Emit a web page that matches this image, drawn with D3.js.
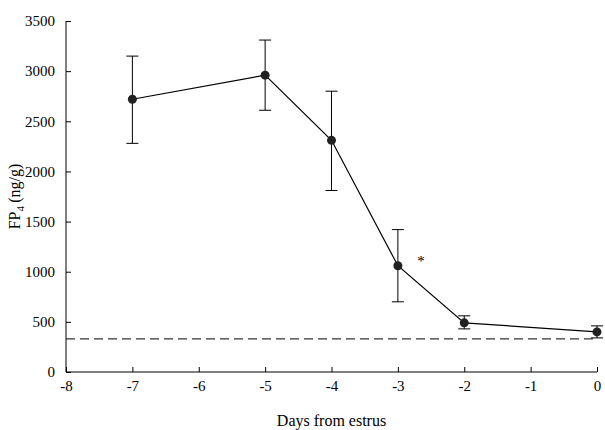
<!DOCTYPE html>
<html><head><meta charset="utf-8">
<script src="https://cdn.jsdelivr.net/npm/d3@7"></script>
<style>body{margin:0;background:#fff}</style>
</head><body>
<script>
// values
var days = [-7, -5, -4, -3, -2, 0];
var means = [2720, 2960, 2310, 1060, 490, 400];
var lows = [2280, 2610, 1810, 700, 430, 340];
var highs = [3150, 3310, 2800, 1420, 560, 460];
var baseline = 330;
var xTicks = [-8, -7, -6, -5, -4, -3, -2, -1, 0];
var yTicks = [0, 500, 1000, 1500, 2000, 2500, 3000, 3500];

var SERIF = "Liberation Serif, DejaVu Serif, serif";
var W = 605, H = 430;
var m = {left: 66, right: 8, top: 21, bottom: 58};
var svg = d3.select("body").append("svg").attr("width", W).attr("height", H)
  .attr("font-family", SERIF);

var x = d3.scaleLinear().domain([-8, 0]).range([m.left, W - m.right]);
var y = d3.scaleLinear().domain([0, 3500]).range([H - m.bottom, m.top]);
var fmt = v => String(v);

var xa = svg.append("g").attr("transform", "translate(0," + (H - m.bottom) + ")")
  .call(d3.axisBottom(x).tickValues(xTicks).tickFormat(fmt).tickSize(-5).tickPadding(8));
var ya = svg.append("g").attr("transform", "translate(" + m.left + ",0)")
  .call(d3.axisLeft(y).tickValues(yTicks).tickFormat(fmt).tickSize(-5).tickPadding(11));
[xa, ya].forEach(function(g) {
  g.attr("font-family", SERIF).attr("font-size", 15);
  g.select(".domain").remove();
  g.selectAll(".tick line").attr("stroke", "#000");
  g.selectAll("text").attr("fill", "#000").attr("font-family", SERIF);
});
svg.append("line").attr("x1", m.left).attr("x2", W - m.right)
  .attr("y1", H - m.bottom).attr("y2", H - m.bottom).attr("stroke", "#000");
svg.append("line").attr("x1", m.left).attr("x2", m.left)
  .attr("y1", m.top).attr("y2", H - m.bottom).attr("stroke", "#000");

svg.append("line").attr("x1", m.left).attr("x2", W - m.right)
  .attr("y1", y(baseline)).attr("y2", y(baseline))
  .attr("stroke", "#000").attr("stroke-dasharray", "9,5");

var pts = days.map((d, i) => ({d: d, m: means[i], lo: lows[i], hi: highs[i]}));

svg.append("path").datum(pts).attr("fill", "none").attr("stroke", "#000").attr("stroke-width", 1.2)
  .attr("d", d3.line().x(p => x(p.d)).y(p => y(p.m)));

var eb = svg.append("g").attr("stroke", "#000");
pts.forEach(function(p) {
  eb.append("line").attr("x1", x(p.d)).attr("x2", x(p.d)).attr("y1", y(p.lo)).attr("y2", y(p.hi));
  [p.lo, p.hi].forEach(v => eb.append("line").attr("x1", x(p.d) - 6).attr("x2", x(p.d) + 6).attr("y1", y(v)).attr("y2", y(v)));
});

svg.selectAll("circle.pt").data(pts).enter().append("circle")
  .attr("cx", p => x(p.d)).attr("cy", p => y(p.m)).attr("r", 4.5).attr("fill", "#222");

svg.append("text").attr("x", x(-2.65)).attr("y", y(1060)).attr("font-size", 15).attr("text-anchor", "middle").text("*");

svg.append("text").attr("x", (m.left + W - m.right) / 2).attr("y", H - 4)
  .attr("text-anchor", "middle").attr("font-size", 16).text("Days from estrus");

var yl = svg.append("text").attr("transform", "translate(20," + y(1750) + ") rotate(-90)")
  .attr("text-anchor", "middle").attr("font-size", 16);
yl.append("tspan").text("FP");
yl.append("tspan").attr("font-size", 11).attr("dy", 4).text("4");
yl.append("tspan").attr("dy", -4).text("\u2009(ng/g)");
</script>
</body></html>
